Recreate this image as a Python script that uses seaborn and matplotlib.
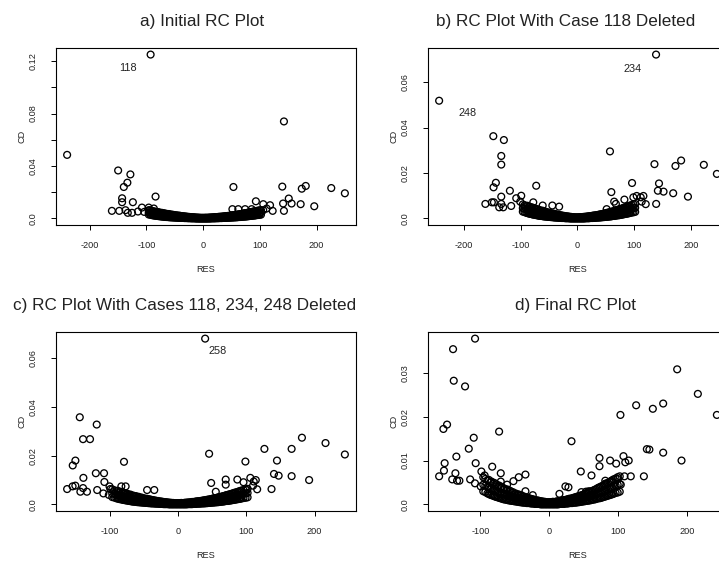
import numpy as np
import pandas as pd
import seaborn as sns
import matplotlib.pyplot as plt

sns.set_theme(style="white")
plt.rcParams['font.family'] = ['Liberation Sans', 'DejaVu Sans']
plt.rcParams['axes.unicode_minus'] = False

# bulk of cases (the dense band around RES = 0):
# lower, middle and upper edge of the band on one RES grid
band_res = [-96, -93, -90, -88, -86, -84, -82, -80, -79, -77, -75, -73, -71, -69, -67,
            -65, -63, -61, -59, -57, -55, -53, -51, -49, -47, -45, -43, -41, -39, -37,
            -35, -33, -31, -29, -27, -25, -23, -21, -19, -17, -15, -13, -11, -9, -7,
            -5, -3, -1, 1, 3, 5, 7, 9, 11, 13, 15, 17, 19, 21, 23, 25, 27, 29, 31, 33,
            35, 37, 39, 41, 43, 45, 47, 49, 51, 53, 55, 57, 59, 61, 63, 65, 67, 69, 71,
            73, 75, 77, 79, 81, 83, 85, 87, 89, 91, 93, 96, 99, 102]
band_lo_cd = [0.0030, 0.0028, 0.0025, 0.0024, 0.0022, 0.0021, 0.0020, 0.0019, 0.0018, 0.0017,
              0.0016, 0.0015, 0.0014, 0.0013, 0.0012, 0.0011, 0.0011, 0.0010, 0.0009, 0.0009,
              0.0008, 0.0008, 0.0007, 0.0007, 0.0006, 0.0006, 0.0005, 0.0005, 0.0004, 0.0004,
              0.0004, 0.0003, 0.0003, 0.0003, 0.0002, 0.0002, 0.0002, 0.0001, 0.0001, 0.0001,
              0.0001, 0.0000, 0.0000, 0.0000, 0.0000, 0.0000, 0.0000, 0.0000, 0.0000, 0.0000,
              0.0000, 0.0000, 0.0000, 0.0000, 0.0000, 0.0001, 0.0001, 0.0001, 0.0001, 0.0002,
              0.0002, 0.0002, 0.0003, 0.0003, 0.0003, 0.0004, 0.0004, 0.0004, 0.0005, 0.0005,
              0.0006, 0.0006, 0.0007, 0.0007, 0.0008, 0.0008, 0.0009, 0.0009, 0.0010, 0.0011,
              0.0011, 0.0012, 0.0013, 0.0014, 0.0014, 0.0015, 0.0016, 0.0017, 0.0018, 0.0019,
              0.0020, 0.0021, 0.0022, 0.0023, 0.0024, 0.0026, 0.0027, 0.0029]
band_mid_cd = [0.0045, 0.0043, 0.0040, 0.0040, 0.0036, 0.0036, 0.0033, 0.0033, 0.0030, 0.0031,
               0.0028, 0.0029, 0.0026, 0.0026, 0.0023, 0.0024, 0.0021, 0.0022, 0.0019, 0.0020,
               0.0017, 0.0018, 0.0015, 0.0016, 0.0014, 0.0014, 0.0012, 0.0013, 0.0011, 0.0011,
               0.0010, 0.0009, 0.0008, 0.0008, 0.0007, 0.0007, 0.0006, 0.0005, 0.0005, 0.0004,
               0.0004, 0.0003, 0.0003, 0.0003, 0.0002, 0.0002, 0.0002, 0.0002, 0.0002, 0.0002,
               0.0002, 0.0002, 0.0003, 0.0003, 0.0003, 0.0004, 0.0004, 0.0005, 0.0005, 0.0006,
               0.0006, 0.0007, 0.0008, 0.0008, 0.0009, 0.0010, 0.0010, 0.0011, 0.0012, 0.0012,
               0.0013, 0.0014, 0.0015, 0.0016, 0.0017, 0.0017, 0.0018, 0.0019, 0.0020, 0.0021,
               0.0022, 0.0023, 0.0024, 0.0026, 0.0027, 0.0028, 0.0029, 0.0031, 0.0032, 0.0033,
               0.0035, 0.0036, 0.0038, 0.0039, 0.0041, 0.0043, 0.0045, 0.0047]
band_hi_cd = [0.0062, 0.0058, 0.0055, 0.0056, 0.0050, 0.0052, 0.0047, 0.0049, 0.0044, 0.0046,
              0.0041, 0.0043, 0.0038, 0.0040, 0.0035, 0.0036, 0.0032, 0.0034, 0.0029, 0.0031,
              0.0027, 0.0028, 0.0024, 0.0025, 0.0022, 0.0023, 0.0020, 0.0021, 0.0018, 0.0018,
              0.0016, 0.0016, 0.0014, 0.0014, 0.0012, 0.0012, 0.0011, 0.0010, 0.0009, 0.0009,
              0.0008, 0.0007, 0.0007, 0.0006, 0.0006, 0.0005, 0.0005, 0.0005, 0.0005, 0.0005,
              0.0006, 0.0005, 0.0006, 0.0007, 0.0007, 0.0008, 0.0008, 0.0009, 0.0010, 0.0010,
              0.0011, 0.0012, 0.0013, 0.0013, 0.0014, 0.0015, 0.0016, 0.0017, 0.0018, 0.0019,
              0.0020, 0.0021, 0.0022, 0.0024, 0.0025, 0.0026, 0.0027, 0.0029, 0.0030, 0.0031,
              0.0033, 0.0034, 0.0036, 0.0038, 0.0039, 0.0041, 0.0042, 0.0044, 0.0046, 0.0048,
              0.0049, 0.0051, 0.0053, 0.0055, 0.0057, 0.0059, 0.0062, 0.0064]

# a) initial fit
a_res = [-92.7, -240, 142.5, -150, -128.4, -133.7, -140, 53.4, 139.6, 181, 174, 226, 250,
         -84, -143, -143, -124, 151, 141, 156, 172, 196, 93, 142.5, -161, -148, -137,
         -133, -125.5, -115, -108, -96, -104, -95, -87, 51.6, 62, 74, 85.6, 106, 118,
         122.6, 112, 100, 106]
a_cd = [0.125, 0.0485, 0.074, 0.0366, 0.0336, 0.0273, 0.024, 0.024, 0.0243, 0.0248, 0.0227,
        0.0232, 0.0192, 0.0167, 0.0154, 0.0124, 0.0124, 0.0152, 0.0114, 0.0114, 0.0109,
        0.0093, 0.0131, 0.0058, 0.0058, 0.0058, 0.0063, 0.0043, 0.0043, 0.0053, 0.0083,
        0.0083, 0.005, 0.0063, 0.0076, 0.0071, 0.0071, 0.0071, 0.0071, 0.0109, 0.0101,
        0.0058, 0.0076, 0.0038, 0.0063]

# b) case 118 deleted
b_res = [138.8, -243.5, -148, -129.4, -134, -134, 57.6, 136, 173, 183, 223, 246, 144, 142,
         152, 169, 195, 139, 96.5, 60, 65, 68, 83, 98.8, 104.7, 111.8, 116.5, 120.6, 113.5,
         -143.5, -147.6, -72.4, -118.8, -134, -162, -150.6, -147, -134, -137.6, -130.6,
         -116.5, -107.6, -98.8, -100.6, -77.6, -61, -44, -32, 51.7]
b_cd = [0.0721, 0.0518, 0.0362, 0.0345, 0.0275, 0.0237, 0.0295, 0.0239, 0.0231, 0.0255,
        0.0236, 0.0196, 0.0154, 0.0122, 0.0118, 0.0111, 0.0096, 0.0064, 0.0156, 0.0116,
        0.0074, 0.0064, 0.0083, 0.0093, 0.0099, 0.0093, 0.0099, 0.0063, 0.0074, 0.0157,
        0.0137, 0.0144, 0.0122, 0.0096, 0.0064, 0.0071, 0.0071, 0.0064, 0.0049, 0.0049,
        0.0055, 0.0089, 0.0100, 0.0074, 0.0071, 0.0057, 0.0057, 0.0052, 0.0041]

# c) cases 118, 234, 248 deleted
c_res = [39.9, -143.5, -118.7, -138.7, -128.5, 45.7, -78.8, 98.8, 126.6, 166.4, 181.5, 216,
         244.3, 145, 140.6, 147.4, 166.4, 192, 137, -153.8, -149.9, -138.2, -120, -108,
         -107.5, -162, -154, -150, -138.7, -142.6, -133, -118, -109, -100, -98.8, -101,
         -82.7, -76.4, -45, -34.5, 48.7, 55.5, 70, 70, 87, 96, 106, 111, 114, 116, 100.7, 110]
c_cd = [0.0681, 0.0358, 0.0328, 0.0268, 0.0268, 0.0208, 0.0175, 0.0176, 0.0228, 0.0228,
        0.0274, 0.0252, 0.0205, 0.018, 0.0125, 0.0118, 0.0116, 0.01, 0.0063, 0.016, 0.018,
        0.0109, 0.0128, 0.0128, 0.0092, 0.0063, 0.0074, 0.0077, 0.0067, 0.0052, 0.0052,
        0.0059, 0.0045, 0.0074, 0.0063, 0.0039, 0.0074, 0.0074, 0.0059, 0.0059, 0.0088,
        0.0052, 0.0102, 0.0081, 0.0102, 0.0091, 0.0109, 0.0094, 0.0100, 0.0062, 0.0059, 0.0077]

# d) final fit
d_res = [-107.9, -139.8, -138.8, -122.4, -153.8, -148.5, -109.8, -117, -73, 32, 103, 125.8,
         150, 165, 185.3, 215.3, 242.9, 141.3, 145, 165, 191.6, 137, -152, -135, -160, -153,
         -136.4, -141, -134, -130.6, -115, -107, -108, -98.7, -94, -99.7, -83, -70.6, -70.6,
         -61.4, -52.2, -44.5, -34.8, -34.8, -24.2, 45.5, 61, 72.6, 72.6, 88, 96.8, 107.4, 115,
         110, 118, 108.8, 103.5, 99, 89.5, 89, 80.8, 81, 23.2, 27.6, 14.5, 53, 57, 46.4]
d_cd = [0.0378, 0.0354, 0.0282, 0.0269, 0.0172, 0.0182, 0.0152, 0.0127, 0.0166, 0.0144,
        0.0204, 0.0226, 0.0218, 0.023, 0.0308, 0.0252, 0.0204, 0.0126, 0.0125, 0.0118, 0.01,
        0.0064, 0.0094, 0.0109, 0.0064, 0.0077, 0.0071, 0.0057, 0.0054, 0.0054, 0.0057,
        0.0094, 0.0048, 0.0075, 0.0066, 0.0041, 0.0086, 0.0071, 0.0052, 0.0045, 0.0053,
        0.0062, 0.0068, 0.003, 0.0021, 0.0075, 0.0066, 0.0106, 0.0087, 0.01, 0.0093, 0.011,
        0.01, 0.0096, 0.0064, 0.0064, 0.0045, 0.0058, 0.0052, 0.0035, 0.0047, 0.0054, 0.0041,
        0.0039, 0.0024, 0.0029, 0.003, 0.0028]

titles = ["a) Initial RC Plot", "b) RC Plot With Case 118 Deleted",
          "c) RC Plot With Cases 118, 234, 248 Deleted", "d) Final RC Plot"]
title_x = [0.488, 0.46, 0.43, 0.493]
labels = [[("118", -132.5, 0.115)],
          [("234", 97.6, 0.0659), ("248", -194, 0.0465)],
          [("258", 57.9, 0.063)],
          []]
yticks = [np.arange(0, 0.13, 0.02), np.arange(0, 0.07, 0.02),
          np.arange(0, 0.07, 0.02), np.arange(0, 0.035, 0.01)]
yticklabels = [["0.0", "", "0.04", "", "0.08", "", "0.12"],
               ["0.0", "0.02", "0.04", "0.06"],
               ["0.0", "0.02", "0.04", "0.06"],
               ["0.0", "0.01", "0.02", "0.03"]]

panels = [(a_res, a_cd), (b_res, b_cd), (c_res, c_cd), (d_res, d_cd)]
# axes boxes in figure fractions (right column runs past the edge, as in the original)
boxes = [[0.0779, 0.5989, 0.4172, 0.3155], [0.5953, 0.5989, 0.4172, 0.3155],
         [0.0779, 0.0891, 0.4172, 0.3191], [0.5953, 0.0891, 0.4172, 0.3191]]

fig = plt.figure(figsize=(7.19, 5.61), dpi=100)
for i, (res, cd) in enumerate(panels):
    df = pd.DataFrame({"RES": list(res) + band_res * 3,
                       "CD": list(cd) + band_lo_cd + band_mid_cd + band_hi_cd})
    ax = fig.add_axes(boxes[i])
    sns.scatterplot(data=df, x="RES", y="CD", ax=ax, marker="o", s=24,
                    facecolor="none", edgecolor="black", linewidth=0.95)
    ax.set_xticks([-200, -100, 0, 100, 200])
    ax.set_yticks(yticks[i])
    ax.set_yticklabels(yticklabels[i], rotation=90, va="center")
    # R style 4% padding round the data
    xr = df["RES"].max() - df["RES"].min()
    yr = df["CD"].max() - df["CD"].min()
    ax.set_xlim(df["RES"].min() - 0.04 * xr, df["RES"].max() + 0.04 * xr)
    ax.set_ylim(df["CD"].min() - 0.04 * yr, df["CD"].max() + 0.04 * yr)
    ax.tick_params(axis="both", direction="out", length=3.3, width=0.7, color="black",
                   labelsize=6.6, labelcolor="#222222", bottom=True, left=True)
    ax.tick_params(axis="x", pad=8)
    ax.tick_params(axis="y", pad=10)
    for sp in ax.spines.values():
        sp.set_color("black")
        sp.set_linewidth(0.8)
    ax.set_xlabel("RES", fontsize=6.6, labelpad=11, color="#222222")
    ax.set_ylabel("CD", fontsize=6.6, labelpad=1.5, color="#222222")
    ax.set_title(titles[i], fontsize=12.3, pad=16, color="#222222", x=title_x[i])
    for txt, lx, ly in labels[i]:
        ax.text(lx, ly, txt, fontsize=7.8, ha="center", va="center", color="#222222")

fig.savefig("out.png", dpi=100)
